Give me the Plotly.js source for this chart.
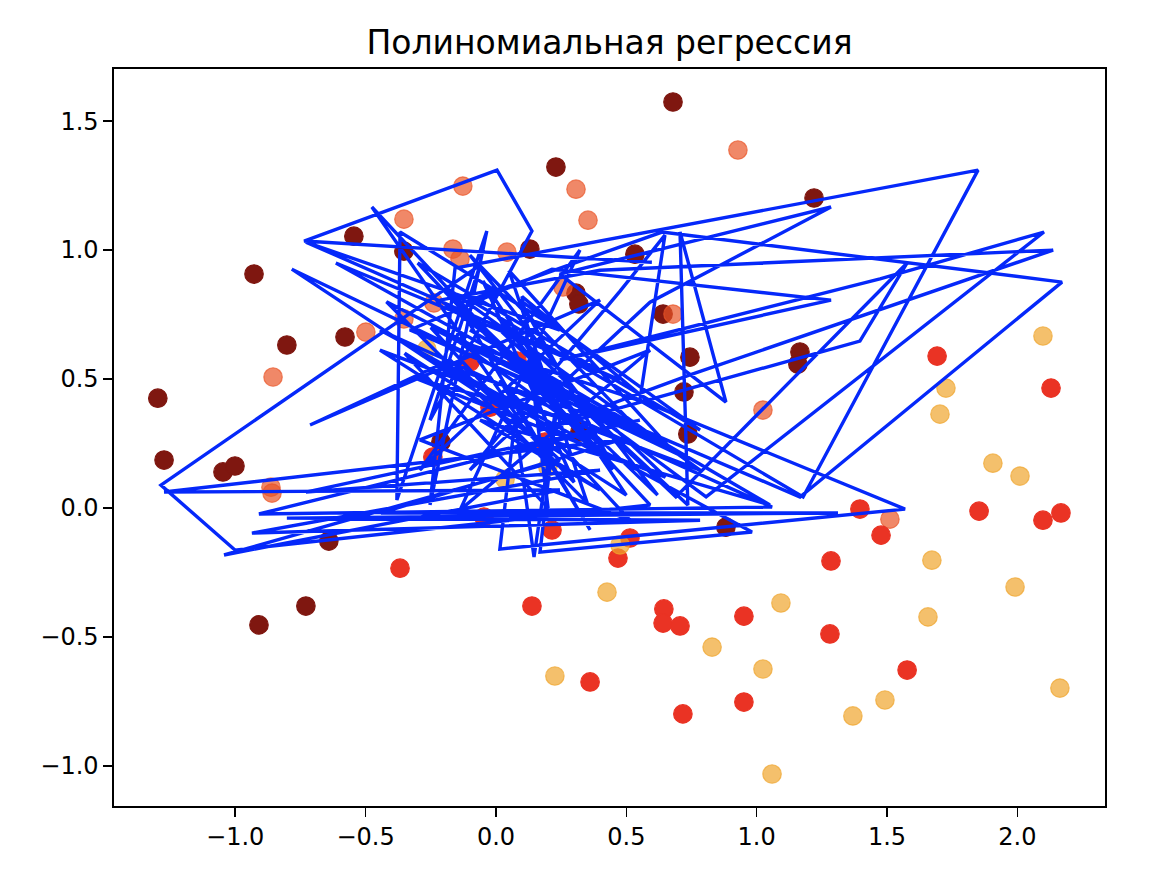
<!DOCTYPE html>
<html>
<head>
<meta charset="utf-8">
<script src="https://cdn.plot.ly/plotly-3.0.1.min.js"></script>
<style>html,body{margin:0;padding:0;background:#fff;}#chart{width:1164px;height:882px;}</style>
</head>
<body>
<div id="chart"></div>
<script>
// Scatter groups
const darkX = [-1.297,-1.273,-1.047,-1.001,-0.928,-0.802,-0.909,-0.729,-0.641,-0.579,-0.545,-0.353,-0.211,0.130,0.230,0.679,0.307,0.318,0.533,0.641,0.744,0.721,0.736,1.220,1.166,1.158,0.882,0.322];
const darkY = [0.426,0.186,0.140,0.163,0.907,0.632,-0.453,-0.380,-0.128,0.663,1.054,0.996,0.256,1.004,1.322,1.574,0.833,0.791,0.984,0.752,0.585,0.450,0.287,1.202,0.605,0.558,-0.074,0.295];

const orangeX = [-0.353,-0.127,0.307,0.353,0.928,-0.165,-0.138,0.042,-0.499,-0.855,-0.353,-0.863,-0.859,0.679,1.024,0.257,1.511,-0.238];
const orangeY = [1.120,1.248,1.236,1.116,1.388,1.004,0.965,0.992,0.682,0.508,0.733,0.081,0.058,0.752,0.380,0.857,-0.043,0.795];

const redX = [1.692,2.129,1.396,1.477,1.853,2.098,2.167,1.285,1.281,1.577,0.138,0.361,0.644,0.641,0.706,0.951,0.951,0.717,0.468,0.514,0.215,-0.046,-0.368,-0.242,-0.100,-0.023,0.081,0.188];
const redY = [0.589,0.465,-0.004,-0.105,-0.012,-0.047,-0.019,-0.205,-0.488,-0.628,-0.380,-0.674,-0.391,-0.446,-0.457,-0.419,-0.752,-0.798,-0.194,-0.116,-0.085,-0.035,-0.233,0.198,0.566,0.391,0.570,0.256];

const yellowX = [2.098,1.726,1.703,1.906,2.010,1.672,1.991,1.657,2.163,1.492,1.369,1.059,1.093,0.829,1.024,0.426,0.226,0.476,0.035,0.199,-0.265];
const yellowY = [0.667,0.465,0.364,0.174,0.124,-0.202,-0.306,-0.422,-0.698,-0.744,-0.806,-1.031,-0.368,-0.539,-0.624,-0.326,-0.651,-0.143,0.112,0.159,0.616];

// Regression prediction line (unsorted order)
const lineX = [0.598,-0.736,0.004,0.138,-0.253,-0.061,-1.285,-1.001,0.591,-0.476,
  0.092,-0.783,0.744,-0.614,0.476,-0.729,0.245,-0.368,-0.380,-0.035,
  -0.253,-0.157,1.849,1.178,-0.100,0.637,2.171,1.166,-0.330,0.215,
  1.285,0.245,1.473,2.102,0.806,-0.215,0.399,2.137,0.744,0.169,
  1.396,1.577,0.690,0.015,0.736,0.706,0.882,0.245,1.285,0.591,
  -0.100,0.476,0.648,0.552,1.569,0.015,0.073,0.146,0.245,0.169,
  0.982,-0.445,1.059,-0.909,0.552,-0.729,0.399,-0.936,0.783,-0.802,
  1.312,-0.441,0.476,-1.273,0.245,-1.043,0.245,-0.176,-0.713,0.399,
  -0.292,0.322,-0.138,0.591,-0.292,0.514,0.015,0.361,-0.176,0.783,
  -0.445,0.399,-0.061,1.051,-0.100,0.629,-0.253,0.437,0.092,0.783,
  -0.300,0.450,-0.200,0.620,-0.100,0.550,-0.420,0.350,0.050,0.680,
  -0.250,0.300,-0.050,0.500,-0.350,0.200,0.100,0.600,-0.150,0.400,
  0.000,0.650,-0.300,0.250,0.150];
const lineY = [0.953,1.035,1.310,1.074,0.341,0.942,0.089,-0.163,0.012,1.167,
  0.341,0.926,0.186,0.950,0.496,1.031,0.690,1.070,0.031,1.074,
  0.012,0.930,1.310,0.043,0.806,1.070,0.876,0.043,0.690,0.926,
  0.806,0.574,0.888,1.070,0.043,0.806,0.922,1.000,0.516,0.302,
  0.647,0.950,0.043,0.690,0.012,1.070,0.411,0.907,1.167,0.798,
  0.147,0.841,1.058,0.419,-0.004,-0.159,0.341,-0.190,0.496,-0.171,
  -0.093,0.690,0.004,-0.023,0.341,0.062,0.147,-0.097,-0.047,-0.039,
  -0.019,-0.019,0.264,0.062,0.070,-0.182,0.186,0.574,0.322,0.806,
  0.147,1.000,-0.008,0.612,0.264,-0.047,0.496,-0.085,0.845,0.147,
  0.612,0.070,0.341,0.012,0.690,0.264,0.574,0.186,0.806,0.302,
  0.950,0.150,0.850,0.050,0.980,0.300,0.800,0.020,0.920,0.220,
  0.700,0.100,0.880,0.050,0.600,0.000,0.820,0.400,0.650,0.250,
  0.750,0.120,0.500,0.350,0.600];

const xTicks = [-1.0,-0.5,0.0,0.5,1.0,1.5,2.0];
const xTickText = ["\u22121.0","\u22120.5","0.0","0.5","1.0","1.5","2.0"];
const yTicks = [-1.0,-0.5,0.0,0.5,1.0,1.5];
const yTickText = ["\u22121.0","\u22120.5","0.0","0.5","1.0","1.5"];
const titleText = "Полиномиальная регрессия";

const mk = (x, y, fill, edge) => ({
  type: 'scatter', mode: 'markers', x: x, y: y, hoverinfo: 'skip',
  marker: {size: 18.5, color: fill, line: {color: edge, width: 1.2}}
});

const data = [
  mk(darkX, darkY, '#7f1710', '#7f1710'),
  mk(orangeX, orangeY, 'rgba(234,85,40,0.7)', 'rgba(234,85,40,0.7)'),
  mk(redX, redY, '#ea3324', '#ea3324'),
  mk(yellowX, yellowY, 'rgba(240,165,45,0.7)', 'rgba(240,165,45,0.7)'),
  {type: 'scatter', mode: 'lines', x: lineX, y: lineY, hoverinfo: 'skip',
   line: {color: '#0528fa', width: 3.4}}
];

const axisCommon = {
  showgrid: false, zeroline: false, showline: true, mirror: true,
  linecolor: '#000', linewidth: 1.6, ticks: 'outside', ticklen: 9, tickwidth: 1.6,
  tickcolor: '#000', tickfont: {family: 'DejaVu Sans', size: 24, color: '#000'}
};

const layout = {
  width: 1164, height: 882, showlegend: false,
  paper_bgcolor: '#fff', plot_bgcolor: '#fff',
  margin: {l: 114, r: 59, t: 69, b: 76},
  title: {text: titleText, font: {family: 'DejaVu Sans', size: 33, color: '#000'},
          x: 0.5, xref: 'paper', xanchor: 'center', y: 0.952, yref: 'container', yanchor: 'middle'},
  xaxis: Object.assign({}, axisCommon, {range: [-1.465, 2.336], tickvals: xTicks, ticktext: xTickText}),
  yaxis: Object.assign({}, axisCommon, {range: [-1.155, 1.702], tickvals: yTicks, ticktext: yTickText})
};

Plotly.newPlot('chart', data, layout, {staticPlot: true, displayModeBar: false});
</script>
</body>
</html>
